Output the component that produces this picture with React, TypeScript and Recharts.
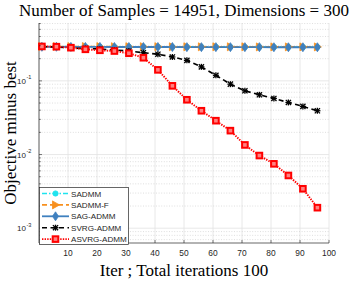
import React from 'react';
import { LineChart, Line, XAxis, YAxis, CartesianGrid, ReferenceLine, Legend } from 'recharts';

const iters = [1, 6, 11, 16, 21, 26, 31, 36, 41, 46, 51, 56, 61, 66, 71, 76, 81, 86, 91, 96];
const sadmm = [0.292, 0.292, 0.291, 0.291, 0.291, 0.290, 0.290, 0.290, 0.290, 0.289, 0.289, 0.289, 0.289, 0.289, 0.288, 0.288, 0.288, 0.288, 0.288, 0.288];
const sadmmF = [0.293, 0.293, 0.292, 0.292, 0.292, 0.291, 0.291, 0.291, 0.291, 0.290, 0.290, 0.290, 0.290, 0.290, 0.290, 0.289, 0.289, 0.289, 0.289, 0.289];
const sagAdmm = [0.290, 0.290, 0.289, 0.289, 0.289, 0.288, 0.288, 0.288, 0.288, 0.288, 0.287, 0.287, 0.287, 0.287, 0.287, 0.287, 0.286, 0.286, 0.286, 0.286];
const svrgAdmm = [0.291, 0.288, 0.279, 0.275, 0.271, 0.262, 0.254, 0.241, 0.230, 0.211, 0.190, 0.155, 0.119, 0.0902, 0.0733, 0.0647, 0.0577, 0.0509, 0.045, 0.0393];
const asvrgAdmm = [0.293, 0.291, 0.282, 0.268, 0.26, 0.254, 0.237, 0.206, 0.141, 0.0856, 0.0554, 0.0393, 0.0288, 0.0211, 0.0135, 0.00969, 0.00748, 0.0052, 0.00343, 0.0019];

const xTicks = [10, 20, 30, 40, 50, 60, 70, 80, 90, 100];
const yMajor = [0.001, 0.01, 0.1];
const yMajorExp = ['-3', '-2', '-1'];
const yMinor = [0.0007, 0.0008, 0.0009, 0.002, 0.003, 0.004, 0.005, 0.006, 0.007, 0.008, 0.009,
  0.02, 0.03, 0.04, 0.05, 0.06, 0.07, 0.08, 0.09, 0.2, 0.3, 0.4, 0.5, 0.6];
const yTicks = [...yMinor, ...yMajor].sort((a, b) => a - b);

const data = iters.map((it, i) => ({
  it,
  sadmm: sadmm[i],
  sadmmF: sadmmF[i],
  sagAdmm: sagAdmm[i],
  svrgAdmm: svrgAdmm[i],
  asvrgAdmm: asvrgAdmm[i],
}));

const AXIS = '#262626';
const SANS = '"Liberation Sans", Arial, sans-serif';
const SERIF = '"Liberation Serif", "Times New Roman", serif';

type Marker = 'circle' | 'triangle' | 'diamond' | 'star' | 'square';

function drawMarker(kind: Marker, cx: number, cy: number, color: string, key?: any) {
  switch (kind) {
    case 'circle':
      return <circle key={key} cx={cx} cy={cy} r={2.6} fill={color} stroke={color} />;
    case 'triangle':
      return <path key={key} d={`M${cx - 3},${cy - 4} L${cx + 4},${cy} L${cx - 3},${cy + 4} Z`} fill={color} stroke={color} strokeWidth={0.8} />;
    case 'diamond':
      return <path key={key} d={`M${cx},${cy - 4.5} L${cx + 3},${cy} L${cx},${cy + 4.5} L${cx - 3},${cy} Z`} fill={color} stroke={color} strokeWidth={0.8} />;
    case 'star':
      return (
        <g key={key} stroke={color} strokeWidth={1.3}>
          <line x1={cx - 2.6} y1={cy - 2.6} x2={cx + 2.6} y2={cy + 2.6} />
          <line x1={cx - 2.6} y1={cy + 2.6} x2={cx + 2.6} y2={cy - 2.6} />
          <line x1={cx - 3} y1={cy} x2={cx + 3} y2={cy} />
          <line x1={cx} y1={cy - 3} x2={cx} y2={cy + 3} />
        </g>
      );
    default:
      return <rect key={key} x={cx - 2.8} y={cy - 2.8} width={5.6} height={5.6} fill="#ff8080" stroke={color} strokeWidth={2} />;
  }
}

const series = [
  { key: 'sadmm', name: 'SADMM', color: '#1fe3ee', dash: '5 2 1.5 2', width: 1.6, marker: 'circle' as Marker },
  { key: 'sadmmF', name: 'SADMM-F', color: '#f7901e', dash: '5 3', width: 1.6, marker: 'triangle' as Marker },
  { key: 'sagAdmm', name: 'SAG-ADMM', color: '#3f80bf', dash: undefined, width: 1.8, marker: 'diamond' as Marker },
  { key: 'svrgAdmm', name: 'SVRG-ADMM', color: '#000000', dash: '5 3.5', width: 1.6, marker: 'star' as Marker },
  { key: 'asvrgAdmm', name: 'ASVRG-ADMM', color: '#ff0000', dash: '1.4 1.2', width: 1.9, marker: 'square' as Marker },
];

const LeftTick = (props: any) => {
  const { x, y, payload } = props;
  const mi = yMajor.indexOf(payload.value);
  const major = mi >= 0;
  return (
    <g>
      <line x1={x} x2={x + (major ? 3 : 1.8)} y1={y} y2={y} stroke={AXIS} strokeWidth={0.6} />
      {major && (
        <text x={x - 13} y={y + 3} textAnchor="end" fontFamily={SANS} fontSize={8} fill={AXIS}>
          10
        </text>
      )}
      {major && (
        <text x={x - 12.6} y={y - 1.5} textAnchor="start" fontFamily={SANS} fontSize={5.6} fill={AXIS}>
          {yMajorExp[mi]}
        </text>
      )}
    </g>
  );
};

const RightTick = (props: any) => {
  const { x, y, payload } = props;
  const major = yMajor.indexOf(payload.value) >= 0;
  return <line x1={x} x2={x - (major ? 3 : 1.8)} y1={y} y2={y} stroke={AXIS} strokeWidth={0.6} />;
};

const BottomTick = (props: any) => {
  const { x, y, payload } = props;
  return (
    <g>
      <line x1={x} x2={x} y1={y} y2={y - 3} stroke={AXIS} strokeWidth={0.6} />
      <text x={x} y={y + 12.5} textAnchor="middle" fontFamily={SANS} fontSize={8.4} fill={AXIS}>
        {payload.value}
      </text>
    </g>
  );
};

const TopTick = (props: any) => {
  const { x, y } = props;
  return <line x1={x} x2={x} y1={y} y2={y + 3} stroke={AXIS} strokeWidth={0.6} />;
};

const LegendBox = () => (
  <svg width={90} height={58} style={{ display: 'block' }}>
    <rect x={0.5} y={0.5} width={89} height={57} fill="#fff" stroke={AXIS} strokeWidth={0.7} />
    {series.map((s, i) => {
      const cy = 6.5 + i * 11.4;
      return (
        <g key={s.key}>
          <line x1={3} x2={30} y1={cy} y2={cy} stroke={s.color} strokeWidth={s.width} strokeDasharray={s.dash} />
          {drawMarker(s.marker, 16.5, cy, s.color)}
          <text x={32} y={cy + 3} fontFamily={SANS} fontSize={8.1} fill={AXIS}>
            {s.name}
          </text>
        </g>
      );
    })}
  </svg>
);

export default function App() {
  return (
    <div style={{ position: 'fixed', left: 0, top: 0, width: 355, height: 282, background: '#fff' }}>
      <LineChart width={355} height={282} data={data} margin={{ top: 23, right: 26, bottom: 0, left: 0 }}>
        <CartesianGrid horizontal={false} stroke="#e2e2e2" strokeWidth={0.8} />
        {yMinor.map((v) => (
          <ReferenceLine key={`mi${v}`} y={v} stroke="#c9c9c9" strokeWidth={0.6} strokeDasharray="1 1.6" />
        ))}
        {yMajor.map((v) => (
          <ReferenceLine key={`ma${v}`} y={v} stroke="#e2e2e2" strokeWidth={0.8} />
        ))}
        <XAxis
          dataKey="it"
          type="number"
          domain={[0, 100]}
          ticks={xTicks}
          interval={0}
          height={39}
          tickSize={0}
          tickMargin={0}
          stroke={AXIS}
          strokeWidth={0.7}
          tick={<BottomTick />}
        />
        <XAxis
          xAxisId="top"
          orientation="top"
          dataKey="it"
          type="number"
          domain={[0, 100]}
          ticks={xTicks}
          interval={0}
          height={0}
          tickSize={0}
          tickMargin={0}
          stroke={AXIS}
          strokeWidth={0.7}
          tick={<TopTick />}
        />
        <YAxis
          type="number"
          scale="log"
          domain={[0.00063, 0.61]}
          allowDataOverflow
          ticks={yTicks}
          interval={0}
          width={39}
          tickSize={0}
          tickMargin={0}
          stroke={AXIS}
          strokeWidth={0.7}
          tick={<LeftTick />}
        />
        <YAxis
          yAxisId="right"
          orientation="right"
          type="number"
          scale="log"
          domain={[0.00063, 0.61]}
          allowDataOverflow
          ticks={yTicks}
          interval={0}
          width={0}
          tickSize={0}
          tickMargin={0}
          stroke={AXIS}
          strokeWidth={0.7}
          tick={<RightTick />}
        />
        {series.map((s) => (
          <Line
            key={s.key}
            dataKey={s.key}
            name={s.name}
            stroke={s.color}
            strokeWidth={s.width}
            strokeDasharray={s.dash}
            isAnimationActive={false}
            dot={(p: any) => drawMarker(s.marker, p.cx, p.cy, s.color, `${s.key}-${p.index}`)}
            activeDot={false}
          />
        ))}
        <Legend
          layout="vertical"
          align="center"
          verticalAlign="middle"
          content={() => <LegendBox />}
          wrapperStyle={{ position: 'absolute', left: 38.5, top: 186.5, width: 90, height: 58 }}
        />
      </LineChart>
      <svg width={355} height={282} style={{ position: 'absolute', left: 0, top: 0, pointerEvents: 'none' }}>
        <text x={184} y={15.5} textAnchor="middle" fontFamily={SERIF} fontSize={17} fill="#000">
          Number of Samples = 14951, Dimensions = 300
        </text>
        <text x={184} y={275.5} textAnchor="middle" fontFamily={SERIF} fontSize={17} fill="#000">
          Iter ; Total iterations 100
        </text>
        <text
          x={0}
          y={0}
          transform="translate(15.5,133) rotate(-90)"
          textAnchor="middle"
          fontFamily={SERIF}
          fontSize={17}
          fill="#000"
        >
          Objective minus best
        </text>
      </svg>
    </div>
  );
}
